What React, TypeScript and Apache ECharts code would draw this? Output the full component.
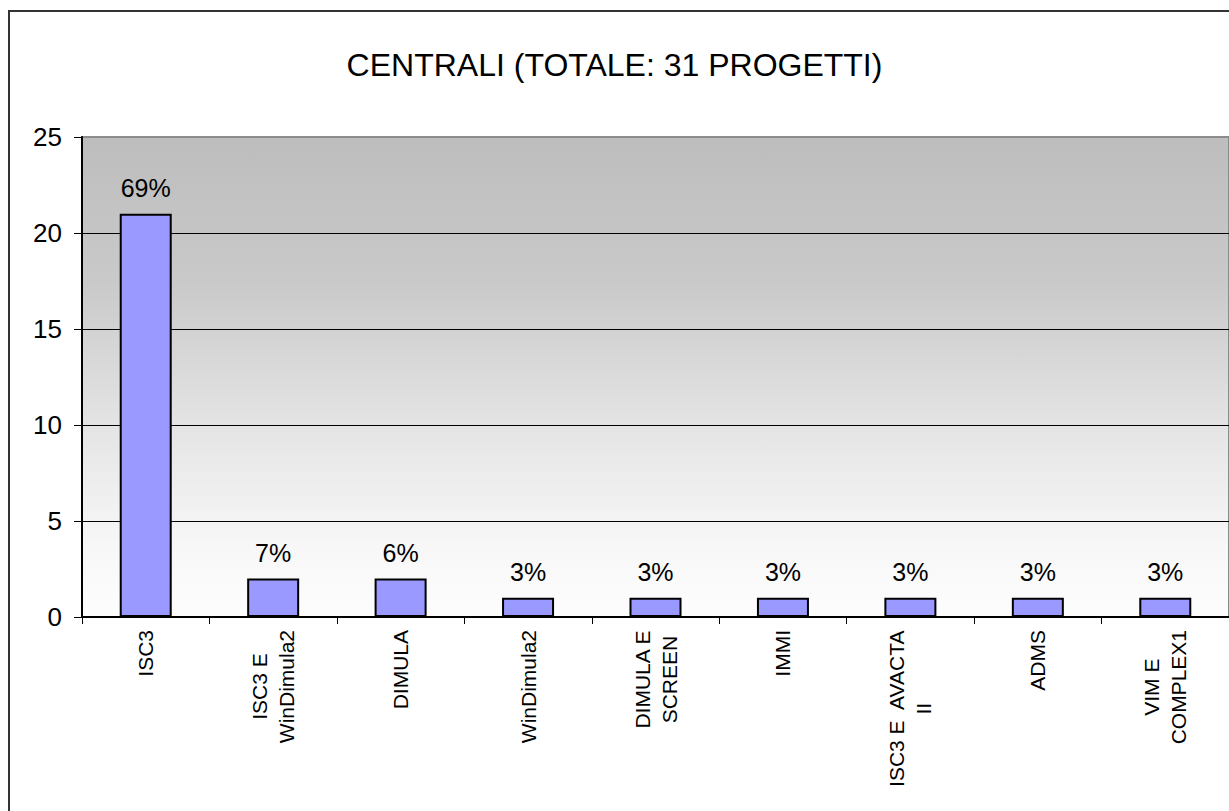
import React, { useEffect, useRef } from "react";
import * as echarts from "echarts";

const titleText = "CENTRALI (TOTALE: 31 PROGETTI)";
const categories = [
  "ISC3",
  "ISC3 E\nWinDimula2",
  "DIMULA",
  "WinDimula2",
  "DIMULA E\nSCREEN",
  "IMMI",
  "ISC3 E  AVACTA\nII",
  "ADMS",
  "VIM E\nCOMPLEX1",
];
const values = [21, 2, 2, 1, 1, 1, 1, 1, 1];
const percentLabels = ["69%", "7%", "6%", "3%", "3%", "3%", "3%", "3%", "3%"];

const FONT = "'Liberation Sans', Arial, sans-serif";
const X_FONT_SIZE = 21;
const X_LINE_HEIGHT = 27;
const X_LABEL_MARGIN = 13;

export default function App() {
  const ref = useRef<HTMLDivElement>(null);
  useEffect(() => {
    document.body.style.margin = "0";
    const chart = echarts.init(ref.current!, undefined, { renderer: "svg" });
    chart.setOption({
      animation: false,
      backgroundColor: "#ffffff",
      title: {
        text: titleText,
        left: "center",
        top: 44,
        textStyle: { fontFamily: FONT, fontSize: 32, fontWeight: "normal", color: "#000" },
      },
      grid: {
        left: 82,
        top: 137,
        width: 1152,
        height: 480,
        show: true,
        borderColor: "#8c8c8c",
        borderWidth: 2,
        backgroundColor: new echarts.graphic.LinearGradient(0, 0, 0, 1, [
          { offset: 0, color: "#bdbdbd" },
          { offset: 0.3, color: "#c9c9c9" },
          { offset: 0.6, color: "#e4e4e4" },
          { offset: 0.85, color: "#f7f7f7" },
          { offset: 1, color: "#fdfdfd" },
        ]),
      },
      xAxis: {
        type: "category",
        data: categories,
        axisLine: { show: true, lineStyle: { color: "#000", width: 2 } },
        axisTick: { show: true, length: 7, lineStyle: { color: "#000", width: 1 } },
        axisLabel: { show: false },
      },
      yAxis: {
        type: "value",
        min: 0,
        max: 25,
        interval: 5,
        axisLine: { show: true, lineStyle: { color: "#000", width: 2 } },
        axisTick: { show: true, length: 8, lineStyle: { color: "#000", width: 1 } },
        axisLabel: { margin: 20, color: "#000", fontFamily: FONT, fontSize: 26 },
        splitLine: {
          show: true,
          lineStyle: {
            color: ["#000", "#000", "#000", "#000", "#000", "#8c8c8c"],
            width: 1,
          },
        },
      },
      series: [
        {
          type: "bar",
          data: values,
          barWidth: 52,
          itemStyle: { color: "#9999ff", borderColor: "#000", borderWidth: 2 },
          label: {
            show: true,
            position: "top",
            distance: 13,
            color: "#000",
            fontFamily: FONT,
            fontSize: 25,
            formatter: (p: any) => percentLabels[p.dataIndex],
          },
        },
      ],
    });

    // Category labels: rotated 90°, lines centered on each other, and the
    // block's end placed just under the x axis (positions from the axis scales).
    const canvas = document.createElement("canvas");
    const ctx = canvas.getContext("2d")!;
    ctx.font = `${X_FONT_SIZE}px ${FONT}`;
    const axisY = chart.convertToPixel({ yAxisIndex: 0 }, 0) as number;
    const labelEls = categories.map((cat, i) => {
      const cx = chart.convertToPixel({ xAxisIndex: 0 }, i) as number;
      const maxW = Math.max(...cat.split("\n").map((l) => ctx.measureText(l).width));
      return {
        type: "text",
        x: cx,
        y: axisY + X_LABEL_MARGIN + maxW / 2,
        rotation: Math.PI / 2,
        style: {
          text: cat,
          fontFamily: FONT,
          fontSize: X_FONT_SIZE,
          lineHeight: X_LINE_HEIGHT,
          fill: "#000",
          align: "center",
          textAlign: "center",
          verticalAlign: "middle",
          textVerticalAlign: "middle",
        },
      };
    });

    chart.setOption({
      graphic: [
        {
          type: "rect",
          shape: { x: 9, y: 11, width: 1300, height: 900 },
          style: { fill: null, stroke: "#333", lineWidth: 2 },
          z: 100,
        },
        ...labelEls,
      ],
    });
    return () => chart.dispose();
  }, []);
  return <div ref={ref} style={{ width: 1229, height: 811 }} />;
}
